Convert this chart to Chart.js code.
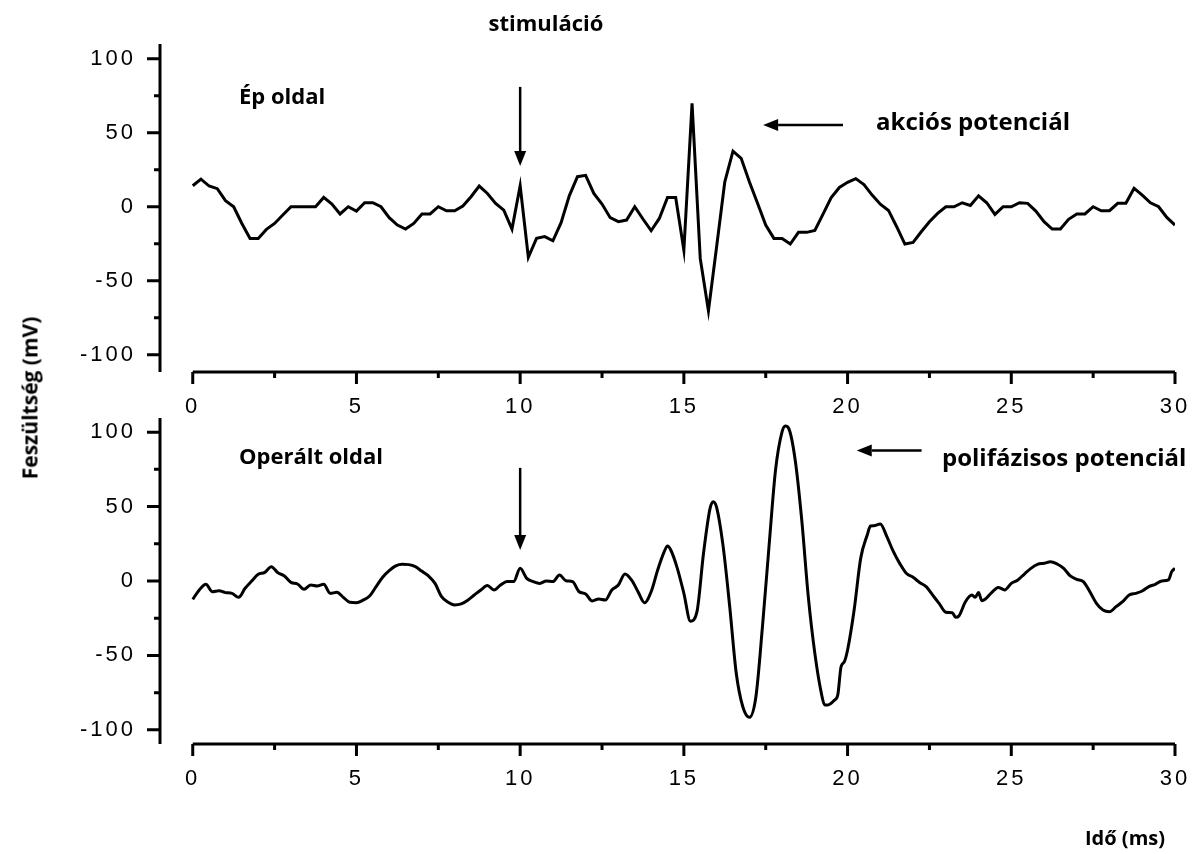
<!DOCTYPE html>
<html>
<head>
<meta charset="utf-8">
<script src="https://cdn.jsdelivr.net/npm/chart.js@4.4.1/dist/chart.umd.min.js"></script>
<style>
  html, body { margin: 0; padding: 0; background: #fff; }
  #wrap { position: relative; width: 1200px; height: 854px; overflow: hidden; }
  canvas { position: absolute; left: 0; }
  #topChart { top: 0; }
  #bottomChart { top: 400px; }
  .note { position: absolute; font-family: 'Open Sans', sans-serif; font-weight: 700; font-size: 22px; line-height: 1; color: #000; white-space: nowrap; }
  .big { font-size: 24px; }
</style>
</head>
<body>
<div id="wrap">
  <canvas id="topChart" width="1200" height="430"></canvas>
  <canvas id="bottomChart" width="1200" height="454"></canvas>

  <div class="note" style="left:546px; top:11px; transform:translateX(-50%);">stimuláció</div>
  <div class="note" style="left:239px; top:84px;">Ép oldal</div>
  <div class="note big" style="left:876px; top:109px;">akciós potenciál</div>
  <div class="note" style="left:239px; top:444px;">Operált oldal</div>
  <div class="note big" style="left:942px; top:445px;">polifázisos potenciál</div>
  <div class="note" style="left:30px; top:398px; font-size:21px; transform:translate(-50%,-50%) rotate(-90deg);">Feszültség (mV)</div>
  <div class="note" style="left:1085px; top:828px; font-size:20px;">Idő (ms)</div>
</div>

<script>
// Ép oldal: one sample every 0.25 ms from 0 to 30 ms (mV)
const topStep = 0.25;
const topVoltage = [
  14.2, 18.7, 14.0, 12.2, 4.1, 0.0, -11.3, -21.4, -21.4, -15.3, -11.3, -5.6,
  0, 0, 0, 0, 6.3, 1.8, -4.9, 0, -2.9, 2.7, 2.7, 0,
  -7.4, -12.4, -15.1, -11.3, -4.9, -4.9, 0, -2.7, -2.7, 0.5, 6.8, 14.0,
  9.0, 2.3, -2.3, -15.1, 14.2, -34.2, -21.4, -20.2, -23.0, -10.8, 7.4, 20.3,
  21.2, 9.0, 1.8, -7.4, -10.1, -9.0, 0, -8.3, -16.2, -7.9, 6.3, 6.3,
  -29.3, 69.9, -34.9, -70.3, -27.0, 16.9, 37.6, 32.7, 16.9, 2.3, -12.4, -21.4,
  -21.4, -25.2, -17.3, -17.3, -16.0, -5.0, 6.2, 13.0, 16.5, 19.0, 15.0, 7.9,
  1.7, -2.5, -13.5, -25.2, -24.1, -16.9, -10.1, -4.5, 0, 0, 2.7, 0.9,
  7.4, 2.7, -5.2, 0, 0, 2.7, 2.3, -2.9, -10.1, -15.1, -15.1, -8.5,
  -4.9, -4.9, 0, -2.7, -2.7, 2.3, 2.3, 12.4, 7.9, 2.7, 0, -7.2,
  -12.4
];

// Operált oldal (ms / mV)
const bottomTime = [
  0.0, 0.2, 0.4, 0.6, 0.8, 1.0, 1.2, 1.4, 1.6, 1.8, 2.0, 2.2, 2.4, 2.6, 2.8,
  3.0, 3.2, 3.4, 3.6, 3.8, 4.0, 4.2, 4.4, 4.6, 4.8, 5.0, 5.2, 5.4, 5.6, 5.8,
  6.0, 6.2, 6.4, 6.6, 6.8, 7.0, 7.2, 7.4, 7.6, 7.8, 8.0, 8.2, 8.4, 8.6, 8.8,
  9.0, 9.2, 9.4, 9.6, 9.8, 10.0, 10.2, 10.4, 10.6, 10.8, 11.0, 11.2, 11.4, 11.6, 11.8,
  12.0, 12.2, 12.4, 12.6, 12.8, 13.0, 13.2, 13.4, 13.6, 13.8, 14.0, 14.2, 14.4, 14.5, 14.6,
  14.8, 15.0, 15.2, 15.4, 15.6, 15.8, 15.9, 16.0, 16.2, 16.4, 16.6, 16.8, 17.0, 17.2, 17.4,
  17.6, 17.8, 18.0, 18.1, 18.2, 18.4, 18.6, 18.8, 19.0, 19.2, 19.3, 19.4, 19.6, 19.7, 19.8,
  19.9, 20.0, 20.2, 20.4, 20.6, 20.7, 20.8, 21.0, 21.2, 21.4, 21.6, 21.8, 22.0, 22.2, 22.4,
  22.6, 22.8, 23.0, 23.2, 23.3, 23.4, 23.6, 23.8, 23.9, 24.0, 24.1, 24.2, 24.4, 24.6, 24.8,
  25.0, 25.2, 25.4, 25.6, 25.8, 26.0, 26.2, 26.4, 26.6, 26.8, 27.0, 27.2, 27.4, 27.6, 27.8,
  28.0, 28.2, 28.4, 28.6, 28.8, 29.0, 29.2, 29.4, 29.6, 29.8, 29.9, 30.0
];
const bottomVoltage = [
  -12.3, -6.0, -2.2, -7.2, -6.5, -7.8, -8.3, -11.0, -4.9, 0, 4.5, 5.8, 9.6, 5.6, 3.4,
  -0.9, -2.0, -5.6, -2.7, -3.4, -2.2, -8.3, -7.6, -11.0, -14.3, -14.6, -12.9, -10.1, -3.8, 2.5,
  6.9, 10.1, 11.2, 11.0, 9.6, 6.5, 3.4, -1.6, -10.5, -14.3, -16.1, -15.4, -12.9, -9.4, -6.0,
  -3.1, -6.0, -2.7, -0.4, -0.4, 8.5, 1.8, -0.4, -1.6, 0, -0.4, 4.0, 0.2, -0.4, -7.2,
  -8.7, -13.4, -12.1, -12.8, -6.0, -2.7, 4.7, 0.7, -7.2, -14.6, -7.2, 7.4, 19.7, 23.5, 20.8,
  8.5, -8.3, -27.0, -20.6, 18.6, 48.8, 53.3, 49.5, 23.1, -17.2, -62.0, -84.5, -91.6, -77.7, -30.7,
  23.1, 74.6, 100.3, 104.1, 102.6, 81.3, 41.0, -10.5, -48.6, -75.5, -83.3, -83.3, -80.0, -76.6, -57.6,
  -54.3, -46.4, -19.5, 15.2, 30.9, 36.9, 37.1, 38.3, 29.8, 19.7, 11.5, 5.0, 2.5, -1.0, -3.8,
  -9.5, -15.2, -21.0, -21.3, -24.4, -23.5, -13.9, -9.4, -11.0, -7.8, -13.2, -12.3, -7.8, -4.3, -6.0,
  -1.6, 0.7, 4.7, 8.5, 11.2, 11.9, 13.0, 11.4, 8.5, 3.4, 1.1, -0.4, -7.2, -15.0, -19.5,
  -20.6, -17.2, -13.9, -9.4, -8.3, -6.7, -3.8, -2.2, 0, 0.7, 6.3, 8.5
];

// axis ticks
const xMajorTicks = [0, 5, 10, 15, 20, 25, 30];
const xMinorTicks = [2.5, 7.5, 12.5, 17.5, 22.5, 27.5];
const xTickLabels = ['0', '5', '10', '15', '20', '25', '30'];
const yMajorTicks = [-100, -50, 0, 50, 100];
const yMinorTicks = [-75, -25, 25, 75];
const yTickLabels = ['-100', '-50', '0', '50', '100'];

// arrows in data units: [x from, y from, x to, y to]
const topArrows = [[10, 81, 10, 27.5], [19.86, 55.2, 17.42, 55.2]];
const bottomArrows = [[10, 76, 10, 20.8], [22.26, 87.6, 20.28, 87.6]];

function drawArrow(ctx, x1, y1, x2, y2) {
    const len = 15, half = 6;
    const ang = Math.atan2(y2 - y1, x2 - x1);
    const bx = x2 - len * Math.cos(ang), by = y2 - len * Math.sin(ang);
    ctx.lineWidth = 2.5;
    ctx.beginPath();
    ctx.moveTo(x1, y1);
    ctx.lineTo(bx, by);
    ctx.stroke();
    ctx.beginPath();
    ctx.moveTo(x2, y2);
    ctx.lineTo(bx + half * Math.sin(ang), by - half * Math.cos(ang));
    ctx.lineTo(bx - half * Math.sin(ang), by + half * Math.cos(ang));
    ctx.closePath();
    ctx.fill();
}

// origin-style axes: detached y axis, long and short ticks, arrows
const oldAxes = {
    id: 'oldAxes',
    beforeDraw(chart) {
        chart.ctx.letterSpacing = '3px';
    },
    afterDraw(chart, args, opts) {
        const { ctx, chartArea: area, scales: { x, y } } = chart;
        ctx.save();
        ctx.strokeStyle = '#000';
        ctx.fillStyle = '#000';
        ctx.lineWidth = 3;
        ctx.beginPath();
        ctx.moveTo(area.left, area.top);
        ctx.lineTo(area.left, area.bottom);
        ctx.moveTo(x.getPixelForValue(0), area.bottom);
        ctx.lineTo(x.getPixelForValue(30), area.bottom);
        yMajorTicks.forEach(v => {
            ctx.moveTo(area.left - 13, y.getPixelForValue(v));
            ctx.lineTo(area.left, y.getPixelForValue(v));
        });
        yMinorTicks.forEach(v => {
            ctx.moveTo(area.left - 6, y.getPixelForValue(v));
            ctx.lineTo(area.left, y.getPixelForValue(v));
        });
        xMajorTicks.forEach(v => {
            ctx.moveTo(x.getPixelForValue(v), area.bottom);
            ctx.lineTo(x.getPixelForValue(v), area.bottom + 12);
        });
        xMinorTicks.forEach(v => {
            ctx.moveTo(x.getPixelForValue(v), area.bottom);
            ctx.lineTo(x.getPixelForValue(v), area.bottom + 6);
        });
        ctx.stroke();
        opts.arrows.forEach(a => {
            drawArrow(ctx, x.getPixelForValue(a[0]), y.getPixelForValue(a[1]),
                x.getPixelForValue(a[2]), y.getPixelForValue(a[3]));
        });
        ctx.restore();
    }
};

function makeChart(id, points, smooth, yMin, yMax, padTop, xAxisHeight, arrows) {
    const tickFont = { family: "'Liberation Sans', Arial, sans-serif", size: 22 };
    return new Chart(document.getElementById(id), {
        type: 'line',
        data: {
            datasets: [{
                data: points,
                borderColor: '#000',
                borderWidth: 3,
                pointRadius: 0,
                fill: false,
                tension: 0,
                cubicInterpolationMode: smooth ? 'monotone' : 'default'
            }]
        },
        options: {
            responsive: false,
            animation: false,
            events: [],
            layout: { padding: { top: padTop, right: 25, left: 0, bottom: 0 } },
            plugins: {
                legend: { display: false },
                tooltip: { enabled: false },
                oldAxes: { arrows: arrows }
            },
            scales: {
                x: {
                    type: 'linear',
                    min: -1,
                    max: 30,
                    grid: { display: false, drawTicks: false },
                    border: { display: false },
                    afterBuildTicks: s => { s.ticks = xMajorTicks.map(v => ({ value: v })); },
                    afterFit: s => {
                        s.height = xAxisHeight;
                        // labels may hang over the ends, keep the plot width fixed
                        s.paddingLeft = 0;
                        s.paddingRight = 0;
                    },
                    ticks: {
                        padding: 22,
                        color: '#000',
                        font: tickFont,
                        maxRotation: 0,
                        autoSkip: false,
                        callback: (v, i) => xTickLabels[i]
                    }
                },
                y: {
                    min: yMin,
                    max: yMax,
                    grid: { display: false, drawTicks: false },
                    border: { display: false },
                    afterBuildTicks: s => { s.ticks = yMajorTicks.map(v => ({ value: v })); },
                    afterFit: s => {
                        s.width = 160;
                        s.paddingTop = 0;
                        s.paddingBottom = 0;
                    },
                    ticks: {
                        padding: 24,
                        color: '#000',
                        font: tickFont,
                        callback: (v, i) => yTickLabels[i]
                    }
                }
            }
        },
        plugins: [oldAxes]
    });
}

const topPoints = topVoltage.map((v, i) => ({ x: i * topStep, y: v }));
const bottomPoints = bottomTime.map((t, i) => ({ x: t, y: bottomVoltage[i] }));

makeChart('topChart', topPoints, false, -111.7, 110, 44, 58, topArrows);
makeChart('bottomChart', bottomPoints, true, -109.5, 109.5, 18, 110, bottomArrows);
</script>
</body>
</html>
